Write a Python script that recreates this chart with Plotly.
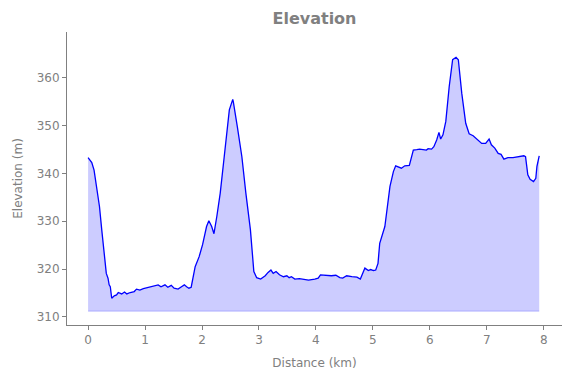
import plotly.graph_objects as go

distance_km = [0.0, 0.065, 0.105, 0.15, 0.20, 0.24, 0.28, 0.32, 0.35, 0.37, 0.39, 0.415, 0.46, 0.50,
               0.53, 0.59, 0.64, 0.68, 0.74, 0.81, 0.85, 0.91, 0.97, 1.03, 1.09, 1.15, 1.20, 1.23,
               1.28, 1.35, 1.40, 1.46, 1.51, 1.58, 1.64, 1.69, 1.73, 1.77, 1.81, 1.85, 1.88, 1.95,
               2.01, 2.08, 2.12, 2.17, 2.21, 2.26, 2.32, 2.39, 2.48, 2.54, 2.55, 2.62, 2.70, 2.77,
               2.85, 2.91, 2.96, 3.03, 3.11, 3.16, 3.21, 3.25, 3.30, 3.36, 3.43, 3.49, 3.53, 3.57,
               3.63, 3.71, 3.78, 3.87, 3.98, 4.04, 4.08, 4.19, 4.27, 4.35, 4.42, 4.47, 4.54, 4.63,
               4.72, 4.78, 4.82, 4.86, 4.92, 4.96, 5.01, 5.05, 5.09, 5.12, 5.21, 5.25, 5.30, 5.36,
               5.40, 5.50, 5.56, 5.64, 5.71, 5.77, 5.82, 5.94, 5.97, 6.03, 6.07, 6.12, 6.16, 6.19,
               6.23, 6.28, 6.34, 6.40, 6.46, 6.50, 6.56, 6.63, 6.69, 6.76, 6.83, 6.91, 6.98, 7.04,
               7.08, 7.14, 7.20, 7.25, 7.30, 7.37, 7.46, 7.54, 7.65, 7.68, 7.72, 7.76, 7.82, 7.86,
               7.88, 7.92]
elevation_m = [343.3, 342.3, 340.7, 336.6, 333.1, 328.2, 323.3, 319.1, 318.1, 316.7, 316.3, 313.9, 314.4, 314.6,
               315.1, 314.8, 315.2, 314.8, 315.1, 315.3, 315.8, 315.6, 315.9, 316.1, 316.2, 316.4, 316.6, 316.7,
               316.3, 316.7, 316.2, 316.6, 316.0, 315.8, 316.3, 316.7, 316.3, 316.0, 316.2, 318.8, 320.5, 322.6,
               325.1, 328.9, 330.1, 328.9, 327.4, 331.0, 335.9, 343.5, 353.3, 355.5, 355.0, 349.8, 343.5, 335.9,
               328.2, 319.5, 318.2, 317.9, 318.6, 319.3, 319.8, 319.1, 319.5, 318.8, 318.4, 318.6, 318.2, 318.4,
               317.9, 318.0, 317.8, 317.7, 317.9, 318.1, 318.8, 318.6, 318.6, 318.7, 318.2, 318.1, 318.6, 318.4,
               318.3, 317.9, 319.1, 320.2, 319.7, 319.9, 319.7, 319.8, 321.2, 325.4, 328.9, 333.1, 337.3, 340.4,
               341.6, 341.1, 341.6, 341.7, 344.9, 345.0, 345.1, 344.9, 345.2, 345.1, 345.6, 347.0, 348.6, 347.2,
               348.1, 350.9, 358.2, 363.8, 364.3, 363.8, 356.8, 350.5, 348.3, 347.9, 347.2, 346.3, 346.3, 347.2,
               346.0, 345.3, 344.2, 344.0, 343.0, 343.3, 343.3, 343.5, 343.7, 343.5, 339.7, 338.8, 338.3, 339.0,
               341.5, 343.7]
fill_base = 311.2

x_ticks = [0, 1, 2, 3, 4, 5, 6, 7, 8]
y_ticks = [310, 320, 330, 340, 350, 360]

gray = "#808080"
font = "DejaVu Sans"

fig = go.Figure()
fig.add_trace(go.Scatter(
    x=[distance_km[0], distance_km[-1]], y=[fill_base, fill_base],
    mode="lines", line=dict(color="rgba(0,0,255,0.2)", width=1),
    hoverinfo="skip", showlegend=False))
fig.add_trace(go.Scatter(
    x=distance_km, y=elevation_m, mode="lines",
    line=dict(color="blue", width=1.3),
    fill="tonexty", fillcolor="rgba(0,0,255,0.2)", showlegend=False))

fig.update_layout(
    width=571, height=378,
    margin=dict(l=67, r=9, t=32, b=53),
    paper_bgcolor="white", plot_bgcolor="white",
    font=dict(family=font, color=gray, size=12),
    title=dict(text="<b>Elevation</b>", x=(67 + 562) / 2 / 571, xanchor="center",
               y=1 - 18 / 378, yanchor="middle", font=dict(size=16, color=gray, family=font)),
    xaxis=dict(range=[-0.37, 8.32], tickvals=x_ticks, showgrid=False, zeroline=False,
               showline=True, linecolor=gray, linewidth=1, ticks="outside", ticklen=4,
               tickcolor=gray, automargin=False,
               title=dict(text="Distance (km)", standoff=12, font=dict(size=12, color=gray))),
    yaxis=dict(range=[308.3, 369.6], tickvals=y_ticks, showgrid=False, zeroline=False,
               showline=True, linecolor=gray, linewidth=1, ticks="outside", ticklen=4,
               tickcolor=gray, automargin=False,
               title=dict(text="Elevation (m)", standoff=11, font=dict(size=12, color=gray))),
)

fig.write_html("out.html", config={"displayModeBar": False},
               post_script="document.body.style.margin='0';")
